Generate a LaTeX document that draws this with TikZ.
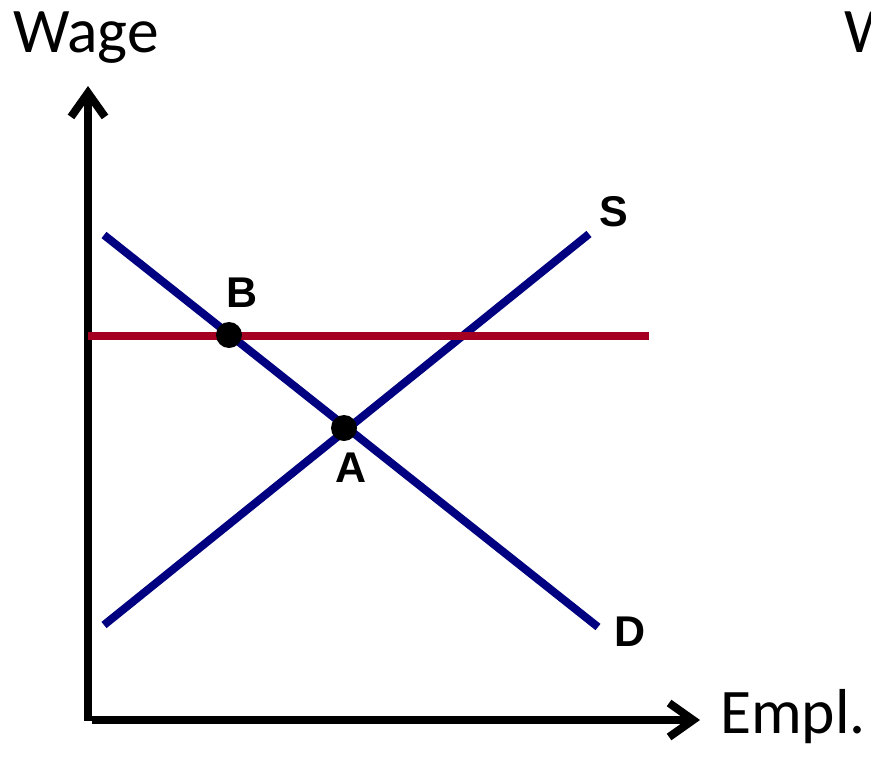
\documentclass[tikz,border=0pt]{standalone}
\usepackage{fontspec}
\setmainfont{Carlito}
\newfontfamily\labfont{Liberation Sans}
\usetikzlibrary{arrows.meta}
\definecolor{curveblue}{HTML}{000080}
\definecolor{wagered}{HTML}{A50021}
\tikzset{
  axisline/.style={line width=8pt, -{Straight Barb[length=24pt,width=34pt]}},
  curve/.style={line width=8pt, curveblue},
  floorline/.style={line width=8.5pt, wagered},
  dotpt/.style={circle, fill=black, inner sep=0pt, minimum size=26pt},
  axislabel/.style={font=\fontsize{63.5}{72}\selectfont, inner sep=0pt, anchor=base west},
  ptlabel/.style={font=\labfont\bfseries\fontsize{43}{50}\selectfont, inner sep=0pt},
}
\begin{document}
\begin{tikzpicture}[x=1pt,y=-1pt]
\clip (0,0) rectangle (871,758);
\fill[white] (0,0) rectangle (871,758);
% axes
\coordinate (origin) at (88,721);
\coordinate (ytip) at (88,86);
\coordinate (xstart) at (92,720);
\coordinate (xtip) at (700,720);
\draw[axisline] (origin) -- (ytip);
\draw[axisline] (xstart) -- (xtip);
\node[axislabel] (wage) at (13,52) {Wage};
\node[axislabel] (empl) at (720,733) {Empl.};
\node[axislabel] (wage2) at (844,52) {W};
% curves
\coordinate (d1) at (104,235);
\coordinate (d2) at (598,627);
\coordinate (s1) at (104,625);
\coordinate (s2) at (589,234);
\coordinate (r1) at (88,336);
\coordinate (r2) at (649,336);
\draw[curve] (d1) -- (d2);
\draw[curve] (s1) -- (s2);
\draw[floorline] (r1) -- (r2);
% points
\node[dotpt] (A) at (344,428) {};
\node[dotpt] (B) at (229,335) {};
\node[ptlabel] (labA) at (351,468) {A};
\node[ptlabel] (labB) at (242,293) {B};
\node[ptlabel] (labS) at (614,212) {S};
\node[ptlabel] (labD) at (630,632) {D};
\end{tikzpicture}
\end{document}
